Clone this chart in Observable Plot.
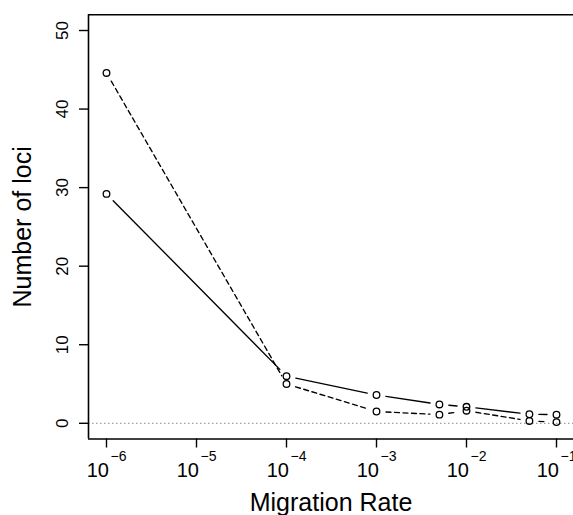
<!DOCTYPE html>
<html>
<head>
<meta charset="utf-8">
<script src="https://cdn.jsdelivr.net/npm/d3@7"></script>
<script src="https://cdn.jsdelivr.net/npm/@observablehq/plot@0.6"></script>
<style>
  html, body { margin: 0; padding: 0; background: #fff; }
  #chart { width: 573px; height: 515px; overflow: hidden; }
</style>
</head>
<body>
<div id="chart"></div>
<script>
// Data
const migrationRates = [1e-6, 1e-4, 1e-3, 5e-3, 1e-2, 5e-2, 1e-1];
const lociSolid  = [29.2, 6.0, 3.6, 2.4, 2.1, 1.15, 1.1];
const lociDashed = [44.6, 5.0, 1.5, 1.1, 1.6, 0.3, 0.15];

const xTicks = [1e-6, 1e-5, 1e-4, 1e-3, 1e-2, 1e-1];
const xTickExponents = ["\u22126", "\u22125", "\u22124", "\u22123", "\u22122", "\u22121"];
const yTicks = [0, 10, 20, 30, 40, 50];

const xTitle = "Migration Rate";
const yTitle = "Number of loci";

const font = "'Liberation Sans', Arial, Helvetica, sans-serif";

function pointsOf(values, series) {
  return migrationRates.map((m, i) => ({x: m, y: values[i], series}));
}
function segmentsOf(values, series) {
  return d3.pairs(migrationRates.map((m, i) => ({x: m, y: values[i]})))
    .map(([a, b]) => ({x1: a.x, y1: a.y, x2: b.x, y2: b.y, series}));
}

const pts = [...pointsOf(lociSolid, "solid"), ...pointsOf(lociDashed, "dashed")];
const segSolid = segmentsOf(lociSolid, "solid");
const segDashed = segmentsOf(lociDashed, "dashed");
const xTickRows = xTicks.map((t, i) => ({x: t, exp: xTickExponents[i]}));

const chart = Plot.plot({
  width: 573,
  height: 515,
  marginLeft: 88,
  marginRight: 0,
  marginTop: 14.3,
  marginBottom: 76.5,
  x: {type: "log", domain: [Math.pow(10, -6.2), Math.pow(10, -0.8)], range: [88, 574]},
  y: {domain: [-2, 52], range: [438.5, 14.3]},
  style: {fontFamily: font, background: "#fff", color: "#000", overflow: "hidden"},
  marks: [
    // zero reference line
    Plot.ruleY([0], {stroke: "#a0a0a0", strokeWidth: 1.3, strokeDasharray: "1.5,2.5"}),
    // box (top, bottom, left; right edge lies just outside the picture)
    Plot.ruleY([52], {stroke: "#000", strokeWidth: 1.6}),
    Plot.ruleY([-2], {stroke: "#000", strokeWidth: 1.6}),
    Plot.ruleX([Math.pow(10, -6.2)], {stroke: "#000", strokeWidth: 1.6}),
    // axes ticks
    Plot.axisX(xTicks, {anchor: "bottom", tickSize: 9, tickFormat: () => "", label: null, strokeWidth: 1.4}),
    Plot.axisY(yTicks, {anchor: "left", tickSize: 9, tickFormat: () => "", label: null, strokeWidth: 1.4}),
    // x tick labels: base "10" plus superscript exponent
    Plot.text(xTickRows, {x: "x", frameAnchor: "bottom", text: () => "10", textAnchor: "end",
      lineAnchor: "bottom", dx: 2.5, dy: 37.5, fontSize: 20, fill: "#000"}),
    Plot.text(xTickRows, {x: "x", frameAnchor: "bottom", text: "exp", textAnchor: "start",
      lineAnchor: "bottom", dx: 4, dy: 22.3, fontSize: 14, fill: "#000"}),
    // y tick labels, rotated
    Plot.text(yTicks, {y: d => d, frameAnchor: "left", text: d => String(d), rotate: -90,
      textAnchor: "middle", lineAnchor: "bottom", dx: -20.7, fontSize: 17, fill: "#000"}),
    // axis titles
    Plot.text([xTitle], {frameAnchor: "bottom", text: d => d, textAnchor: "middle",
      lineAnchor: "bottom", dy: 71.5, fontSize: 25, fill: "#000"}),
    Plot.text([yTitle], {frameAnchor: "left", text: d => d, rotate: -90, textAnchor: "middle",
      lineAnchor: "bottom", dx: -58, fontSize: 25, fill: "#000"}),
    // series lines with gaps around the points (type = "b")
    Plot.arrow(segSolid, {x1: "x1", y1: "y1", x2: "x2", y2: "y2", insetStart: 9.5, insetEnd: 9.5,
      headLength: 0, stroke: "#000", strokeWidth: 1.35}),
    Plot.arrow(segDashed, {x1: "x1", y1: "y1", x2: "x2", y2: "y2", insetStart: 9.5, insetEnd: 9.5,
      headLength: 0, stroke: "#000", strokeWidth: 1.35, strokeDasharray: "5,3.5"}),
    // open circles
    Plot.dot(pts, {x: "x", y: "y", r: 3.3, stroke: "#000", strokeWidth: 1.3, fill: "none"})
  ]
});

document.getElementById("chart").appendChild(chart);
</script>
</body>
</html>
